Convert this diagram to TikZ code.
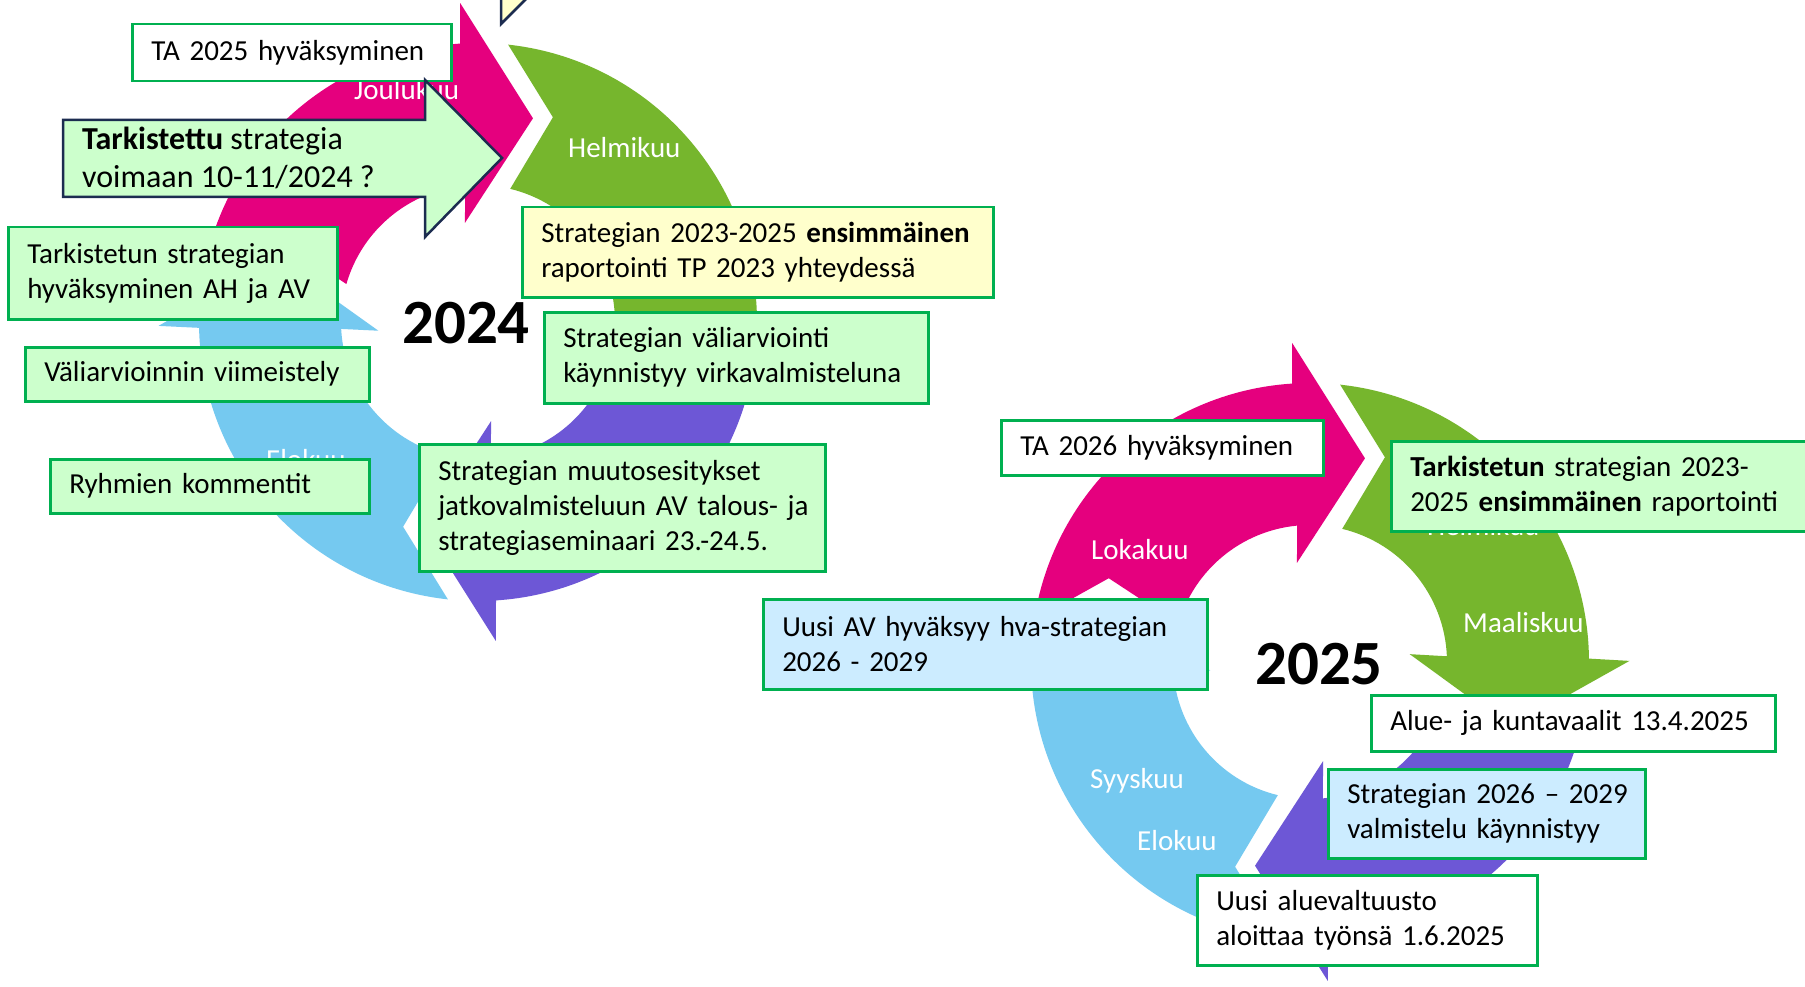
\documentclass[tikz,border=0pt]{standalone}
\usepackage{fontspec}
\setmainfont{Carlito}
\definecolor{cmag}{RGB}{229,0,126}
\definecolor{cgreen}{RGB}{118,182,45}
\definecolor{cpurple}{RGB}{109,87,214}
\definecolor{cblue}{RGB}{117,201,240}
\definecolor{boxgreen}{RGB}{0,176,80}
\definecolor{navy}{RGB}{28,44,80}
\definecolor{lgreen}{RGB}{204,255,204}
\definecolor{lyellow}{RGB}{255,255,204}
\definecolor{lblue}{RGB}{204,236,255}
\newcommand\boxfont{\fontsize{29}{35}\selectfont}
\newcommand\arrfont{\fontsize{32}{38}\selectfont}
\newcommand\yearfont{\fontsize{63}{70}\selectfont\bfseries}
% #1 tail angle offset, #2 head angle offset, #3 colour
\newcommand\cycarrow[3]{%
  \fill[#3] ({#1-173.8}:279) arc[start angle={#1-173.8}, end angle={#2-93.7}, radius=279]
    -- ({#2-93.2}:319.5) -- ({#2-74.9}:211) -- ({#2-97.5}:100) -- ({#2-95.4}:137)
    arc[start angle={#2-95.4}, end angle={#1-166.4}, radius=137]
    -- ({#1-159.9}:218) -- cycle;}
\newcommand\fullcycle{%
  \cycarrow{2.5}{0}{cmag}
  \cycarrow{90}{93}{cgreen}
  \cycarrow{181.5}{180}{cpurple}
  \cycarrow{270}{272.5}{cblue}}
\tikzset{
  box/.style={draw=boxgreen, line width=2.5pt, inner xsep=19pt, inner ysep=0pt,
    align=left, anchor=north west, font=\boxfont, text=black},
  month/.style={text=white, anchor=base west, font=\boxfont, inner sep=0pt},
  year/.style={anchor=base, font=\yearfont, inner sep=0pt, text=black},
  arrtext/.style={anchor=base west, font=\arrfont, inner sep=0pt, text=black},
}
\begin{document}
\begin{tikzpicture}[x=1pt,y=-1pt]
\useasboundingbox (0,0) rectangle (1805,987);
\clip (0,0) rectangle (1805,987);
\fill[white] (0,0) rectangle (1805,987);
% ---------- cycle 2024 ----------
\begin{scope}[shift={(478,322)}]
  \fullcycle
\end{scope}
% ---------- cycle 2025 ----------
\begin{scope}[shift={(1310,662)}]
  \fullcycle
\end{scope}
% month labels
\node[month] (joulu) at (354,100) {Joulukuu};
\node[month] (helmi1) at (568,158) {Helmikuu};
\node[month] (elo1) at (266,469) {Elokuu};
\node[month] (loka) at (1091,559) {Lokakuu};
\node[month] (helmi2) at (1427,535) {Helmikuu};
\node[month] (maalis) at (1463,632) {Maaliskuu};
\node[month] (syys) at (1090,788) {Syyskuu};
\node[month] (elo2) at (1137,850) {Elokuu};
% years
\node[year] (y2024) at (466,343) {2024};
\node[year] (y2025) at (1319,684) {2025};
% yellow callout tip at top
\draw[navy, line width=2.5pt, fill=lyellow] (501,-20) -- (501,24) -- (545,-20);
% ---------- boxes 2024 ----------
\node[box, fill=white, text width=281pt, minimum height=57pt] (ta25) at (131,23) {\mbox{TA 2025 hyväksyminen}};
\draw[navy, line width=2.5pt, fill=lgreen] (63,120) -- (425,120) -- (425,80) -- (502,158)
  -- (425,237) -- (425,197) -- (63,197) -- cycle;
\node[arrtext] (tarkA) at (82,150) {\textbf{Tarkistettu} strategia};
\node[arrtext] (tarkB) at (82,188) {voimaan 10-11/2024 ?};
\node[box, fill=lgreen, text width=291pt, minimum height=92pt] (hyv) at (7,226)
  {\mbox{Tarkistetun strategian}\\\mbox{hyväksyminen AH ja AV}};
\node[box, fill=lgreen, text width=306pt, minimum height=54pt] (vali) at (24,346)
  {\mbox{Väliarvioinnin viimeistely}};
\node[box, fill=lgreen, text width=281pt, minimum height=54pt] (ryhm) at (49,458)
  {\mbox{Ryhmien kommentit}};
\node[box, fill=lyellow, text width=433pt, minimum height=90pt] (ens) at (521,206)
  {\mbox{Strategian 2023-2025 \textbf{ensimmäinen}}\\\mbox{raportointi TP 2023 yhteydessä}};
\node[box, fill=lgreen, text width=346pt, minimum height=91pt] (valiarv) at (543,311)
  {\mbox{Strategian väliarviointi}\\\mbox{käynnistyy virkavalmisteluna}};
\node[box, fill=lgreen, text width=368pt, minimum height=127pt] (muut) at (418,443)
  {\mbox{Strategian muutosesitykset}\\\mbox{jatkovalmisteluun AV talous- ja}\\\mbox{strategiaseminaari 23.-24.5.}};
% ---------- boxes 2025 ----------
\node[box, fill=white, text width=284pt, minimum height=55pt] (ta26) at (1000,419) {\mbox{TA 2026 hyväksyminen}};
\node[box, fill=lgreen, text width=384pt, minimum height=90pt] (tark25) at (1390,440)
  {\mbox{\textbf{Tarkistetun} strategian 2023-}\\\mbox{2025 \textbf{ensimmäinen} raportointi}};
\node[box, fill=lblue, text width=406pt, minimum height=90pt] (uusiav) at (762,598)
  {\mbox{Uusi AV hyväksyy hva-strategian}\\\mbox{2026 - 2029}};
\node[box, fill=white, text width=366pt, minimum height=56pt] (vaalit) at (1370,694)
  {\mbox{Alue- ja kuntavaalit 13.4.2025}};
\node[box, fill=lblue, text width=279pt, minimum height=89pt] (valm) at (1327,768)
  {\mbox{Strategian 2026 – 2029}\\\mbox{valmistelu käynnistyy}};
\node[box, fill=white, text width=302pt, minimum height=90pt] (aluev) at (1196,874)
  {\mbox{Uusi aluevaltuusto}\\\mbox{aloittaa työnsä 1.6.2025}};
\end{tikzpicture}
\end{document}
